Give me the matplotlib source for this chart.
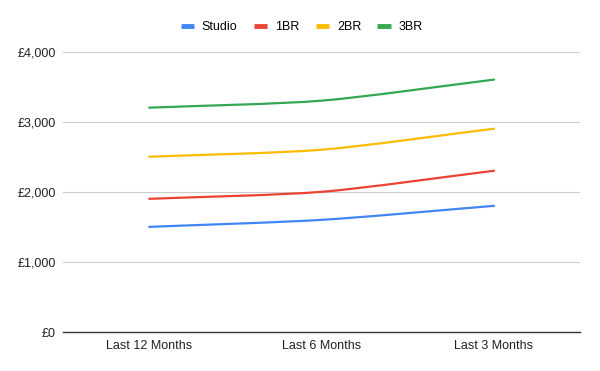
import numpy as np
import matplotlib.pyplot as plt
from matplotlib.path import Path
from matplotlib.patches import PathPatch
from matplotlib.lines import Line2D
from matplotlib.ticker import FuncFormatter

plt.rcParams['font.family'] = ['Liberation Sans', 'DejaVu Sans']

# data
periods = ['Last 12 Months', 'Last 6 Months', 'Last 3 Months']
series_names = ['Studio', '1BR', '2BR', '3BR']
studio = [1500, 1600, 1800]
br1 = [1900, 2000, 2300]
br2 = [2500, 2600, 2900]
br3 = [3200, 3300, 3600]
colors = ['#4285F4', '#EA4335', '#FBBC04', '#34A853']


def smooth_path(xs, ys, k=0.25):
    # cubic bezier through the points (Catmull-Rom style tangents)
    xs = np.asarray(xs, float)
    ys = np.asarray(ys, float)
    n = len(xs)
    verts = [(xs[0], ys[0])]
    codes = [Path.MOVETO]
    for i in range(n - 1):
        a = max(i - 1, 0)
        b = min(i + 2, n - 1)
        d0 = ((xs[i + 1] - xs[a]) / (i + 1 - a), (ys[i + 1] - ys[a]) / (i + 1 - a))
        d1 = ((xs[b] - xs[i]) / (b - i), (ys[b] - ys[i]) / (b - i))
        c1 = (xs[i] + d0[0] * k, ys[i] + d0[1] * k)
        c2 = (xs[i + 1] - d1[0] * k, ys[i + 1] - d1[1] * k)
        verts += [c1, c2, (xs[i + 1], ys[i + 1])]
        codes += [Path.CURVE4] * 3
    return Path(verts, codes)


fig = plt.figure(figsize=(6, 3.71), dpi=100)
ax = fig.add_axes([0.105, 0.105, 0.862, 0.756])

x = np.arange(len(periods))
for name, vals, c in zip(series_names, [studio, br1, br2, br3], colors):
    ax.add_patch(PathPatch(smooth_path(x, vals), facecolor='none', edgecolor=c,
                           lw=1.6, capstyle='round', zorder=3))

ax.set_xlim(-0.5, len(periods) - 0.5)
ax.set_ylim(0, 4000)
ax.set_yticks([0, 1000, 2000, 3000, 4000])
ax.yaxis.set_major_formatter(FuncFormatter(lambda v, p: '£{:,.0f}'.format(v)))
ax.set_xticks(x)
ax.set_xticklabels(periods)
ax.grid(axis='y', color='#cccccc', lw=0.8)
ax.set_axisbelow(True)
for s in ['top', 'right', 'left']:
    ax.spines[s].set_visible(False)
ax.spines['bottom'].set_color('#333333')
ax.spines['bottom'].set_linewidth(1)
ax.tick_params(length=0, labelsize=9, colors='#222222')
ax.tick_params(axis='y', pad=5)
ax.tick_params(axis='x', pad=6)

handles = [Line2D([], [], color=c, lw=3.5, solid_capstyle='butt') for c in colors]
fig.legend(handles, series_names, loc='center', bbox_to_anchor=(0.503, 0.927), ncol=4,
           frameon=False, fontsize=9, handlelength=1.1, columnspacing=1.3,
           handletextpad=0.6)

fig.savefig('out.png', dpi=100)
